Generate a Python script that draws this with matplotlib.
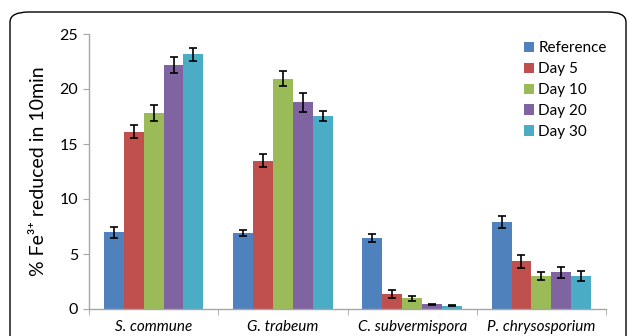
import numpy as np
import matplotlib
matplotlib.use("Agg")
import matplotlib.pyplot as plt
from matplotlib.patches import FancyBboxPatch

# Datos: % de Fe3+ reducido en 10 min por hongo y día de cultivo
hongos = ["S. commune", "G. trabeum", "C. subvermispora", "P. chrysosporium"]
series = ["Reference", "Day 5", "Day 10", "Day 20", "Day 30"]
colores = ["#4F81BD", "#C0504D", "#9BBB59", "#8064A2", "#4BACC6"]

reference = [7.0, 6.9, 6.45, 7.9]
day5 = [16.1, 13.5, 1.35, 4.35]
day10 = [17.8, 20.95, 0.97, 3.0]
day20 = [22.15, 18.8, 0.42, 3.35]
day30 = [23.15, 17.55, 0.3, 3.0]

err_reference = [0.5, 0.3, 0.4, 0.58]
err_day5 = [0.6, 0.6, 0.38, 0.58]
err_day10 = [0.72, 0.72, 0.2, 0.33]
err_day20 = [0.72, 0.88, 0.05, 0.5]
err_day30 = [0.57, 0.48, 0.05, 0.42]

valores = [reference, day5, day10, day20, day30]
errores = [err_reference, err_day5, err_day10, err_day20, err_day30]

plt.rcParams["font.family"] = ["Lato", "DejaVu Sans"]

fig = plt.figure(figsize=(6.29, 3.36), dpi=100)
ax = fig.add_axes([89 / 629, 27 / 336, 517 / 629, 275 / 336])

# Barras agrupadas con ancho de hueco tipo Excel (150%)
x = np.arange(len(hongos))
ancho = 1 / 6.5
for i, (nombre, vals, errs, c) in enumerate(zip(series, valores, errores, colores)):
    pos = x - 2 * ancho + i * ancho
    ax.bar(pos, vals, width=ancho, color=c, label=nombre, zorder=2)
    ax.errorbar(pos, vals, yerr=errs, fmt="none", ecolor="black",
                elinewidth=1.2, capsize=2.6, capthick=1.2, zorder=3)

ax.set_xlim(-0.5, len(hongos) - 0.5)
ax.set_ylim(0, 25)
ax.set_yticks([0, 5, 10, 15, 20, 25])
ax.set_xticks(x)
ax.set_xticklabels(hongos, fontstyle="italic", fontsize=11)
ax.set_xticks(np.arange(len(hongos) + 1) - 0.5, minor=True)
ax.tick_params(axis="x", which="major", length=0, pad=8)
ax.tick_params(axis="x", which="minor", length=4, color="#A6A6A6", direction="out")
ax.tick_params(axis="y", length=4, color="#A6A6A6", labelsize=11.5, pad=4)

for lado in ["top", "right"]:
    ax.spines[lado].set_visible(False)
for lado in ["left", "bottom"]:
    ax.spines[lado].set_color("#A6A6A6")
    ax.spines[lado].set_linewidth(1)

ax.set_ylabel("% Fe³⁺ reduced in 10min", fontsize=14, labelpad=9)

ax.legend(loc="upper left", bbox_to_anchor=(0.829, 0.995), frameon=False,
          fontsize=11, handlelength=0.7, handleheight=0.7,
          handletextpad=0.25, labelspacing=0.45, borderaxespad=0)

# Marco redondeado alrededor del gráfico
marco = FancyBboxPatch((10 / 629, -0.2), 616 / 629, 1.2 - 12 / 336,
                       boxstyle="round,pad=0,rounding_size=0.03",
                       transform=fig.transFigure, fill=False,
                       edgecolor="black", linewidth=1, clip_on=False)
fig.patches.append(marco)

fig.savefig("out.png", dpi=100)
